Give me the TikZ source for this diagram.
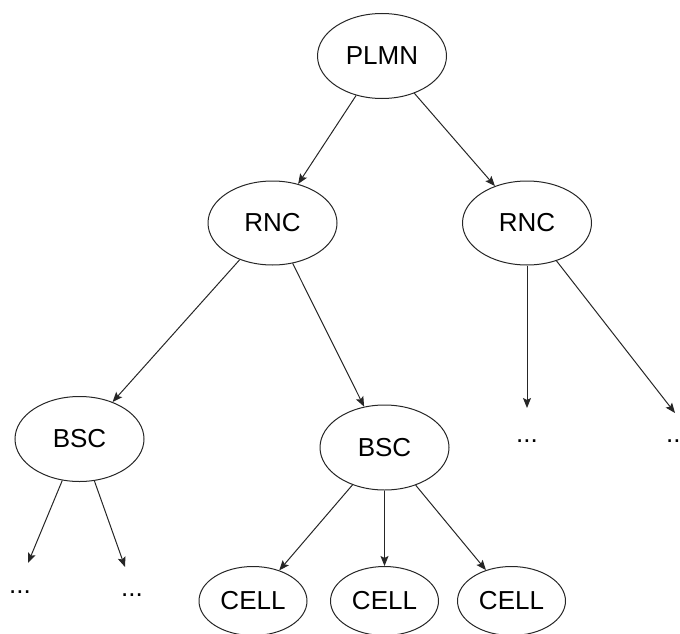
\documentclass[tikz,border=0pt]{standalone}
\usepackage{fontspec}
\setmainfont{Liberation Sans}
\usetikzlibrary{shapes.geometric,arrows.meta}

\begin{document}
\begin{tikzpicture}[x=1pt,y=-1pt,
  ent/.style={ellipse,draw=black!85,line width=1pt,inner sep=0pt,
    font=\fontsize{26}{30}\selectfont},
  bigent/.style={ent,minimum width=129pt,minimum height=85pt},
  cellent/.style={ent,minimum width=108pt,minimum height=69pt},
  more/.style={inner sep=0pt,font=\fontsize{26}{30}\selectfont},
  link/.style={draw=black!85,line width=1pt,
    -{Stealth[length=10pt,width=8pt,inset=2pt]}}]
  \useasboundingbox (0,0) rectangle (680,634);

  % network hierarchy
  \node[bigent] (plmn) at (382,56) {PLMN};
  \node[bigent,minimum height=84pt] (rncA) at (272.5,223) {RNC};
  \node[bigent,minimum height=84pt] (rncB) at (527,223) {RNC};
  \node[bigent] (bscA) at (79.5,439) {BSC};
  \node[bigent] (bscB) at (384.5,447.5) {BSC};
  \node[cellent] (cellA) at (253,601) {CELL};
  \node[cellent] (cellB) at (384.5,601) {CELL};
  \node[cellent] (cellC) at (511.5,601) {CELL};

  % elided branches
  \node[more] (moreA) at (527,441) {...};
  \node[more] (moreB) at (677,441) {...};
  \node[more] (moreC) at (20,592) {...};
  \node[more] (moreD) at (132,595) {...};
  \coordinate (endA) at (527,408);
  \coordinate (endB) at (675,413);
  \coordinate (endC) at (28,563);
  \coordinate (endD) at (125,567);

  \draw[link] (plmn) -- (rncA);
  \draw[link] (plmn) -- (rncB);
  \draw[link] (rncA) -- (bscA);
  \draw[link] (rncA) -- (bscB);
  \draw[link] (rncB.south) -- (endA);
  \draw[link] (rncB) -- (endB);
  \draw[link] (bscA) -- (endC);
  \draw[link] (bscA) -- (endD);
  \draw[link] (bscB) -- (cellA);
  \draw[link] (bscB.south) -- (cellB);
  \draw[link] (bscB) -- (cellC);
\end{tikzpicture}
\end{document}
